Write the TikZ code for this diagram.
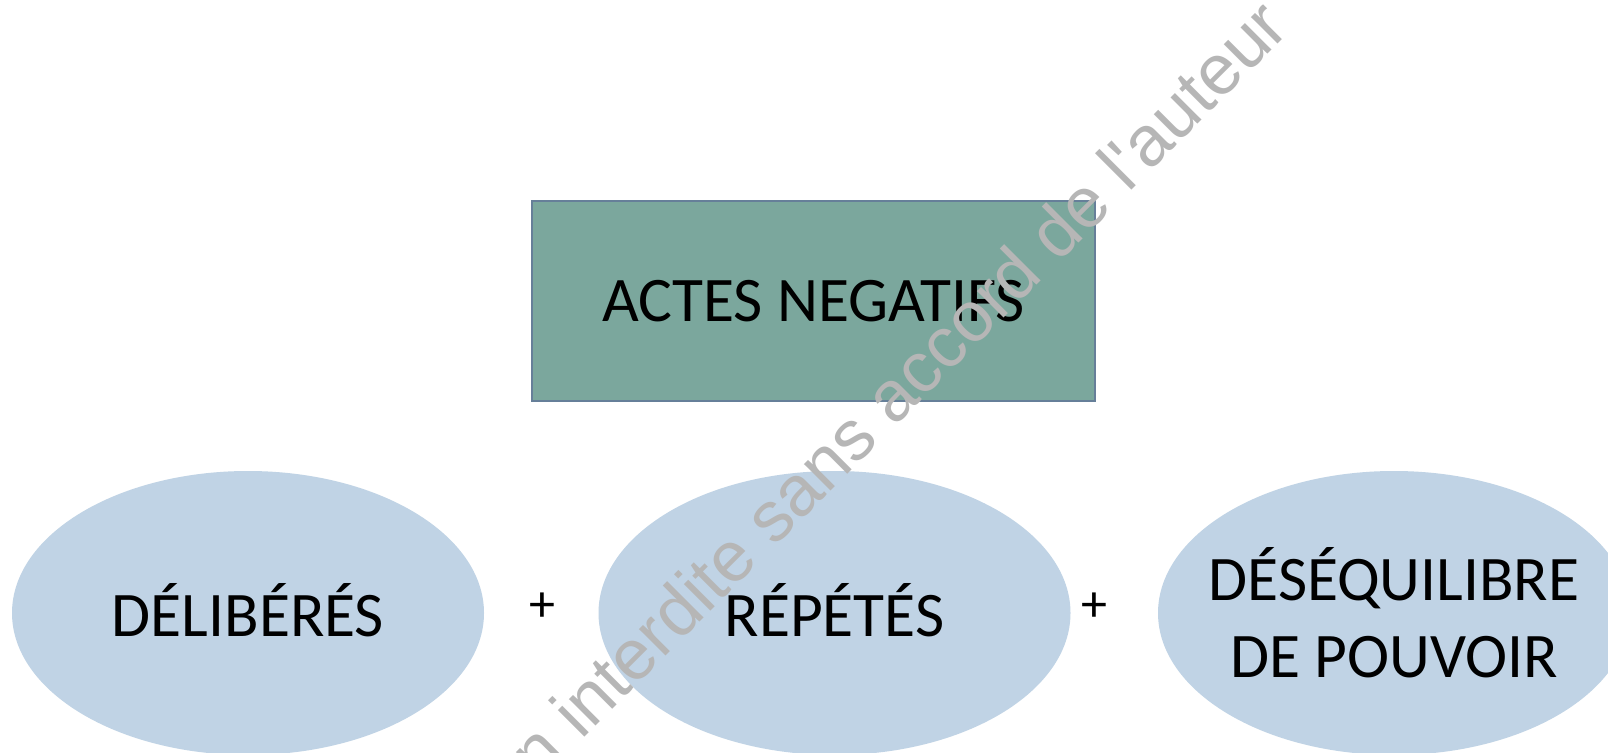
\documentclass[tikz,border=0pt]{standalone}
\usepackage{fontspec}
\setmainfont{Carlito}
\newfontfamily\wmfont{Liberation Sans}[Ligatures=TeXOff]
\usetikzlibrary{shapes.geometric}
\definecolor{rectfill}{HTML}{7BA79D}
\definecolor{rectline}{HTML}{667F99}
\definecolor{ellfill}{HTML}{C0D3E5}
\definecolor{wmgray}{RGB}{182,182,182}
\tikzset{
  titlebox/.style={rectangle, fill=rectfill, draw=rectline, line width=2pt,
    minimum width=563pt, minimum height=200pt, inner sep=0pt,
    font=\fontsize{63.5}{77}\selectfont},
  oval/.style={ellipse, fill=ellfill, draw=none, minimum width=472pt,
    minimum height=284pt, inner sep=0pt},
  ovaltext/.style={inner sep=0pt, align=center,
    font=\fontsize{63.5}{77}\selectfont},
  plussign/.style={inner sep=0pt, font=\fontsize{52}{60}\selectfont},
  watermark/.style={rotate=45, inner sep=0pt, text=wmgray,
    font=\wmfont\fontsize{71}{84}\selectfont}
}
\begin{document}
\begin{tikzpicture}[x=1pt,y=-1pt]
\useasboundingbox (0,0) rectangle (1608,752);
\clip (0,0) rectangle (1608,752);
\fill[white] (0,0) rectangle (1608,752);
\node[titlebox] (actes) at (813.5,301) {ACTES NEGATIFS};
\node[oval] (delib) at (248,613) {};
\node[oval] (repet) at (834.5,613) {};
\node[oval] (deseq) at (1394,613) {};
\node[ovaltext] (delibtxt) at ([yshift=3pt]delib.center) {DÉLIBÉRÉS};
\node[ovaltext] (repettxt) at ([yshift=3pt]repet.center) {RÉPÉTÉS};
\node[ovaltext] (deseqtxt) at (deseq.center) {DÉSÉQUILIBRE\\DE POUVOIR};
\node[plussign] (plusA) at (542,607) {+};
\node[plussign] (plusB) at (1094,607) {+};
\node[watermark, anchor=base east] (wm) at (1292,30) {Reproduction interdite sans accord de l'auteur};
\end{tikzpicture}
\end{document}
